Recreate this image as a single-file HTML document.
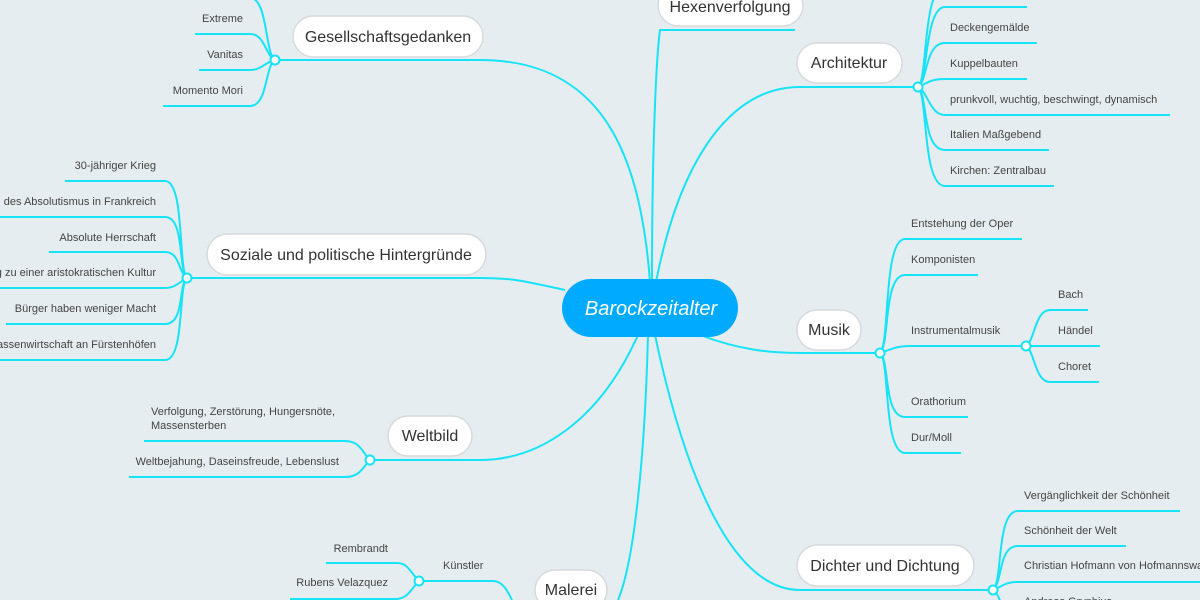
<!DOCTYPE html>
<html><head><meta charset="utf-8"><style>
html,body{margin:0;padding:0;background:#e6edf1;}
svg{display:block;font-family:"Liberation Sans","DejaVu Sans",sans-serif;}
.l{fill:none;stroke:#17e3f7;stroke-width:2;}
.t{font-size:11px;fill:#444;}
.p{fill:#fff;stroke:#d5dadd;stroke-width:1.5;}
.m{font-size:16px;fill:#333;}
.c{fill:#fff;stroke:#17e3f7;stroke-width:2;}
</style></head><body>
<svg width="1200" height="600" viewBox="0 0 1200 600" xmlns="http://www.w3.org/2000/svg">
<!-- main connectors -->
<path class="l" d="M650 282 C 640 150, 600 60, 480 60 L 275 60"/>
<path class="l" d="M652 282 C 652 150, 656 60, 660 30 L 795 30"/>
<path class="l" d="M656 282 C 680 160, 730 87, 800 87 L 918 87"/>
<path class="l" d="M700 335 C 740 350, 770 353, 800 353 L 880 353"/>
<path class="l" d="M655 335 C 690 500, 740 590, 800 590 L 993 590"/>
<path class="l" d="M565 290 C 520 280, 510 278, 480 278 L 187 278"/>
<path class="l" d="M638 335 C 600 420, 540 460, 480 460 L 370 460"/>
<path class="l" d="M648 335 C 645 450, 635 560, 618 600"/>

<!-- Gesellschaftsgedanken children -->
<path class="l" d="M275 60 C 265 55, 268 -2, 250 -2 L 200 -2"/>
<path class="l" d="M275 60 C 265 55, 265 34, 250 34 L 195 34"/>
<path class="l" d="M275 60 C 265 62, 262 70, 250 70 L 199 70"/>
<path class="l" d="M275 60 C 265 65, 268 106, 250 106 L 163 106"/>
<text class="t" x="243" y="22" text-anchor="end">Extreme</text>
<text class="t" x="243" y="58" text-anchor="end">Vanitas</text>
<text class="t" x="243" y="94" text-anchor="end">Momento Mori</text>
<circle class="c" cx="275" cy="60" r="4.5"/>

<!-- Architektur children -->
<path class="l" d="M918 87 C 928 80, 922 -10, 945 -15"/>
<path class="l" d="M918 87 C 928 80, 925 7, 945 7 L 1027 7"/>
<path class="l" d="M918 87 C 928 80, 925 43, 945 43 L 1037 43"/>
<path class="l" d="M918 87 C 928 83, 930 79, 945 79 L 1027 79"/>
<path class="l" d="M918 87 C 928 92, 930 115, 945 115 L 1170 115"/>
<path class="l" d="M918 87 C 928 95, 922 150, 945 150 L 1049 150"/>
<path class="l" d="M918 87 C 928 95, 922 186, 945 186 L 1054 186"/>
<text class="t" x="950" y="31">Deckengemälde</text>
<text class="t" x="950" y="67">Kuppelbauten</text>
<text class="t" x="950" y="103">prunkvoll, wuchtig, beschwingt, dynamisch</text>
<text class="t" x="950" y="138">Italien Maßgebend</text>
<text class="t" x="950" y="174">Kirchen: Zentralbau</text>
<circle class="c" cx="918" cy="87" r="4.5"/>

<!-- Musik children -->
<path class="l" d="M880 353 C 890 345, 883 239, 905 239 L 1022 239"/>
<path class="l" d="M880 353 C 890 345, 883 275, 905 275 L 978 275"/>
<path class="l" d="M880 353 C 890 350, 895 346, 910 346 L 1026 346"/>
<path class="l" d="M880 353 C 890 360, 883 417, 905 417 L 968 417"/>
<path class="l" d="M880 353 C 890 360, 883 453, 905 453 L 961 453"/>
<text class="t" x="911" y="227">Entstehung der Oper</text>
<text class="t" x="911" y="263">Komponisten</text>
<text class="t" x="911" y="334">Instrumentalmusik</text>
<text class="t" x="911" y="405">Orathorium</text>
<text class="t" x="911" y="441">Dur/Moll</text>
<circle class="c" cx="880" cy="353" r="4.5"/>
<path class="l" d="M1026 346 C 1035 340, 1035 310, 1050 310 L 1088 310"/>
<path class="l" d="M1026 346 L 1100 346"/>
<path class="l" d="M1026 346 C 1035 352, 1035 382, 1050 382 L 1099 382"/>
<text class="t" x="1058" y="298">Bach</text>
<text class="t" x="1058" y="334">Händel</text>
<text class="t" x="1058" y="370">Choret</text>
<circle class="c" cx="1026" cy="346" r="4.5"/>

<!-- Dichter children -->
<path class="l" d="M993 590 C 1003 582, 996 511, 1018 511 L 1180 511"/>
<path class="l" d="M993 590 C 1003 582, 998 546, 1018 546 L 1126 546"/>
<path class="l" d="M993 590 C 1003 586, 1005 582, 1018 582 L 1200 582"/>
<path class="l" d="M993 590 C 1000 595, 1000 605, 1005 610"/>
<text class="t" x="1024" y="499">Vergänglichkeit der Schönheit</text>
<text class="t" x="1024" y="534">Schönheit der Welt</text>
<text class="t" x="1024" y="569">Christian Hofmann von Hofmannswaldau</text>
<text class="t" x="1024" y="605">Andreas Gryphius</text>
<circle class="c" cx="993" cy="590" r="4.5"/>

<!-- Soziale children -->
<path class="l" d="M187 278 C 178 270, 185 181, 165 181 L 65 181"/>
<path class="l" d="M187 278 C 178 270, 185 217, 165 217 L 0 217"/>
<path class="l" d="M187 278 C 178 272, 180 252, 165 252 L 49 252"/>
<path class="l" d="M187 278 C 178 283, 175 288, 165 288 L 0 288"/>
<path class="l" d="M187 278 C 178 285, 185 324, 165 324 L 6 324"/>
<path class="l" d="M187 278 C 178 285, 185 360, 165 360 L 0 360"/>
<text class="t" x="156" y="169" text-anchor="end">30-jähriger Krieg</text>
<text class="t" x="156" y="205" text-anchor="end">Entstehung des Absolutismus in Frankreich</text>
<text class="t" x="156" y="241" text-anchor="end">Absolute Herrschaft</text>
<text class="t" x="156" y="276" text-anchor="end">Entwicklung zu einer aristokratischen Kultur</text>
<text class="t" x="156" y="312" text-anchor="end">Bürger haben weniger Macht</text>
<text class="t" x="156" y="348" text-anchor="end">Verschwendung und Massenwirtschaft an Fürstenhöfen</text>
<circle class="c" cx="187" cy="278" r="4.5"/>

<!-- Weltbild children -->
<path class="l" d="M370 460 C 362 452, 360 441, 345 441 L 144 441"/>
<path class="l" d="M370 460 C 362 468, 360 477, 345 477 L 129 477"/>
<text class="t" x="151" y="415">Verfolgung, Zerstörung, Hungersnöte,</text>
<text class="t" x="151" y="429">Massensterben</text>
<text class="t" x="339" y="465" text-anchor="end">Weltbejahung, Daseinsfreude, Lebenslust</text>
<circle class="c" cx="370" cy="460" r="4.5"/>

<!-- Malerei children -->
<path class="l" d="M419 581 L 493 581 C 503 581, 508 592, 512 600"/>
<path class="l" d="M419 581 C 410 572, 408 563, 397 563 L 326 563"/>
<path class="l" d="M419 581 C 410 590, 408 599, 395 599 L 290 599"/>
<text class="t" x="443" y="569">Künstler</text>
<text class="t" x="388" y="552" text-anchor="end">Rembrandt</text>
<text class="t" x="388" y="586" text-anchor="end">Rubens Velazquez</text>
<circle class="c" cx="419" cy="581" r="4.5"/>

<!-- pills -->
<rect class="p" x="293" y="16" width="190" height="41" rx="20.5"/>
<text class="m" x="388" y="42" text-anchor="middle">Gesellschaftsgedanken</text>
<rect class="p" x="658" y="-15" width="145" height="41" rx="20.5"/>
<text class="m" x="730" y="12" text-anchor="middle">Hexenverfolgung</text>
<rect class="p" x="797" y="43" width="105" height="40" rx="20"/>
<text class="m" x="849" y="68" text-anchor="middle">Architektur</text>
<rect class="p" x="797" y="310" width="64" height="40" rx="20"/>
<text class="m" x="829" y="335" text-anchor="middle">Musik</text>
<rect class="p" x="797" y="545" width="177" height="41" rx="20.5"/>
<text class="m" x="885" y="571" text-anchor="middle">Dichter und Dichtung</text>
<rect class="p" x="207" y="234" width="279" height="41" rx="20.5"/>
<text class="m" x="346" y="260" text-anchor="middle">Soziale und politische Hintergründe</text>
<rect class="p" x="388" y="416" width="84" height="40" rx="20"/>
<text class="m" x="430" y="441" text-anchor="middle">Weltbild</text>
<rect class="p" x="535" y="570" width="72" height="40" rx="20"/>
<text class="m" x="571" y="595" text-anchor="middle">Malerei</text>

<!-- central -->
<rect x="562" y="279" width="176" height="58" rx="29" fill="#00aaff"/>
<text x="651" y="315" text-anchor="middle" font-size="20" font-style="italic" fill="#fff">Barockzeitalter</text>
</svg>
</body></html>
